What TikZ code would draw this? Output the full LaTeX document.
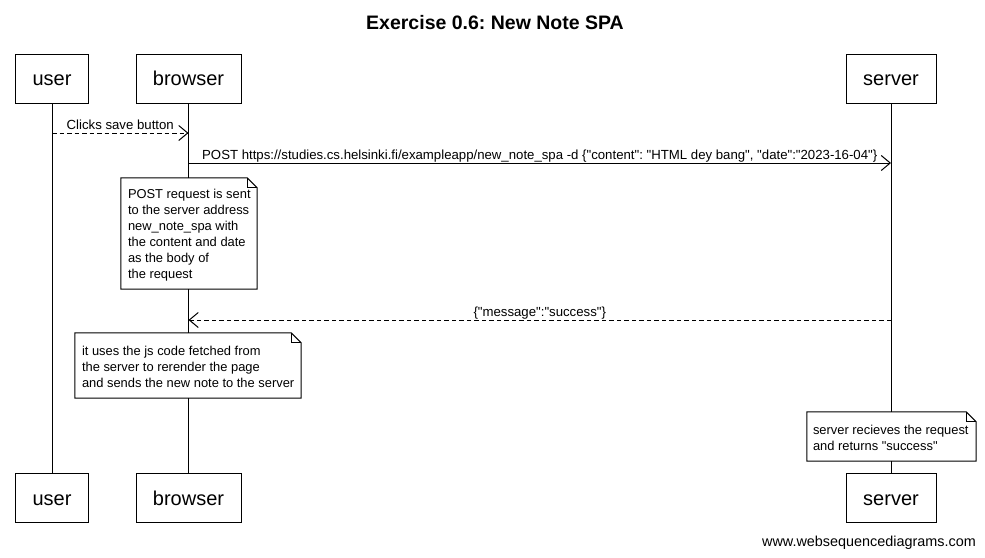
\documentclass[tikz,border=0pt]{standalone}
\usepackage{fontspec}
\newfontfamily\lib{Liberation Sans}
\usetikzlibrary{arrows.meta}
\frenchspacing
\newcommand\notefold[1]{%
  \draw[line width=1pt] (#1.south west) -- (#1.north west) -- ([xshift=-10pt]#1.north east)
    -- ([yshift=-10pt]#1.north east) -- (#1.south east) -- cycle;
  \draw[line width=1pt] ([xshift=-10pt]#1.north east) |- ([yshift=-10pt]#1.north east);}
\begin{document}
\begin{tikzpicture}[x=1pt,y=-1pt,
  actor/.style={draw, line width=1pt, fill=white, minimum height=49pt, inner sep=0pt,
    text height=14.3pt, text depth=0pt, font=\lib\fontsize{20}{24}\selectfont},
  life/.style={line width=1pt},
  msg/.style={line width=1pt, -{Straight Barb[length=9pt,width=15pt,line width=1pt]}},
  reply/.style={msg, dash pattern=on 4.5pt off 3pt},
  lbl/.style={font=\lib\fontsize{13.2}{15}\selectfont, anchor=base, inner sep=0pt, yshift=3.3pt},
  notebox/.style={fill=white, inner sep=0pt},
  notetext/.style={anchor=west, inner sep=0pt, align=left, font=\lib\fontsize{12.9}{16}\selectfont},
]
\useasboundingbox (0,0) rectangle (985,557);
\node[anchor=base, inner sep=0pt, font=\lib\bfseries\fontsize{19.5}{23}\selectfont] (title) at (495,29) {Exercise 0.6: New Note SPA};

\node[actor, minimum width=73pt] (userT) at (52,78.5) {user};
\node[actor, minimum width=105pt] (browserT) at (188.5,78.5) {browser};
\node[actor, minimum width=90pt] (serverT) at (891,78.5) {server};
\node[actor, minimum width=73pt] (userB) at (52,498) {user};
\node[actor, minimum width=105pt] (browserB) at (188.5,498) {browser};
\node[actor, minimum width=90pt] (serverB) at (891,498) {server};

\draw[life] (userT) -- (userB);
\draw[life] (browserT) -- (browserB);
\draw[life] (serverT) -- (serverB);

\draw[reply] (userT |- 0,133) -- node[lbl] {Clicks save button} (browserT |- 0,133);
\draw[msg] (browserT |- 0,163) -- node[lbl] {POST https://studies.cs.helsinki.fi/exampleapp/new\_note\_spa -d \{"content": "HTML dey bang", "date":"2023-16-04"\}} (serverT |- 0,163);

\node[notebox, minimum width=136pt, minimum height=111pt] (note1) at (189,233.5) {};
\notefold{note1}
\node[notetext, xshift=7pt, yshift=-1.5pt] (note1t) at (note1.west)
  {POST request is sent\\to the server address\\new\_note\_spa with\\the content and date\\as the body of\\the request};

\draw[reply] (serverT |- 0,320) -- node[lbl] {\{"message":"success"\}} (browserT |- 0,320);

\node[notebox, minimum width=226pt, minimum height=65pt] (note2) at (188,365.5) {};
\notefold{note2}
\node[notetext, xshift=7pt, yshift=-1.5pt] (note2t) at (note2.west)
  {it uses the js code fetched from\\the server to rerender the page\\and sends the new note to the server};

\node[notebox, minimum width=169pt, minimum height=49pt] (note3) at (891.5,436.5) {};
\notefold{note3}
\node[notetext, xshift=6pt, yshift=-1.5pt] (note3t) at (note3.west)
  {server recieves the request\\and returns "success"};

\node[anchor=base east, inner sep=0pt, font=\lib\fontsize{14.4}{16}\selectfont] (footer) at (976,546) {www.websequencediagrams.com};
\end{tikzpicture}
\end{document}
